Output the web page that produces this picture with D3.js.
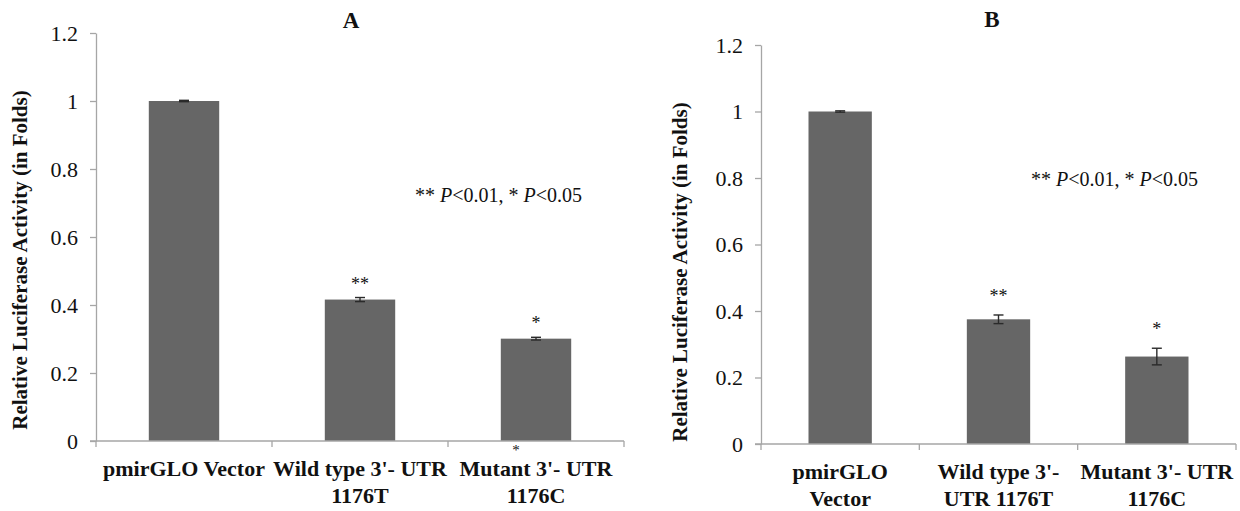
<!DOCTYPE html>
<html>
<head>
<meta charset="utf-8">
<script src="https://cdn.jsdelivr.net/npm/d3@7/dist/d3.min.js"></script>
<style>
  html, body { margin: 0; padding: 0; background: #fff; }
  svg { display: block; }
  text { font-family: "Liberation Serif", "Times New Roman", serif; fill: #111; }
</style>
</head>
<body>
<svg id="chart" width="1240" height="511"></svg>
<script>
// ---------------- DATA ----------------
const categories = ["pmirGLO Vector", "Wild type 3'- UTR 1176T", "Mutant 3'- UTR 1176C"];
const labelLinesA = [["pmirGLO Vector"], ["Wild type 3'- UTR", "1176T"], ["Mutant 3'- UTR", "1176C"]];
const labelLinesB = [["pmirGLO", "Vector"], ["Wild type 3'-", "UTR 1176T"], ["Mutant 3'- UTR", "1176C"]];
const valuesA = [1.0, 0.416, 0.301];
const errorsA = [0.002, 0.006, 0.004];
const valuesB = [1.0, 0.375, 0.263];
const errorsB = [0.002, 0.013, 0.025];
const starsA = ["", "**", "*"];
const starsB = ["", "**", "*"];
const yTicks = [0, 0.2, 0.4, 0.6, 0.8, 1, 1.2];
const yTickLabels = ["0", "0.2", "0.4", "0.6", "0.8", "1", "1.2"];
const yTitle = "Relative Luciferase Activity (in Folds)";
const panelTitles = ["A", "B"];

// ---------------- LAYOUT ----------------
const svg = d3.select("#chart");
const BAR = "#666666", AXIS = "#a6a6a6";

const panels = [
  { title: panelTitles[0], values: valuesA, errors: errorsA, stars: starsA, lines: labelLinesA,
    x0: 96, x1: 624, yTop: 33, yBot: 441, titleX: 351, titleY: 28,
    noteX: 415, noteY: 202, yTitleX: 27, yTitleY: 260, lab1: 476, starGap: 8, strayStar: true },
  { title: panelTitles[1], values: valuesB, errors: errorsB, stars: starsB, lines: labelLinesB,
    x0: 761, x1: 1236, yTop: 45, yBot: 444, titleX: 992, titleY: 27,
    noteX: 1031, noteY: 186, yTitleX: 687, yTitleY: 272, lab1: 479, starGap: 13, strayStar: false }
];

panels.forEach(p => {
  const g = svg.append("g");
  const x = d3.scaleBand().domain(categories).range([p.x0, p.x1]).paddingInner(0.6).paddingOuter(0.3);
  const y = d3.scaleLinear().domain([0, 1.2]).range([p.yBot, p.yTop]);
  const data = categories.map((c, i) => ({ c, v: p.values[i], e: p.errors[i], s: p.stars[i], lines: p.lines[i] }));

  // bars
  g.selectAll("rect.bar").data(data).enter().append("rect")
    .attr("class", "bar")
    .attr("x", d => x(d.c)).attr("width", x.bandwidth())
    .attr("y", d => y(d.v)).attr("height", d => y(0) - y(d.v))
    .attr("fill", BAR);

  // y axis
  const yAxis = d3.axisLeft(y).tickValues(yTicks)
    .tickFormat((d, i) => yTickLabels[i]).tickSize(6).tickSizeOuter(0).tickPadding(12);
  const ya = g.append("g").attr("transform", `translate(${p.x0},0)`).call(yAxis);
  ya.attr("font-family", null).attr("font-size", null);
  ya.select(".domain").attr("stroke", AXIS).attr("stroke-width", 1.3);
  ya.selectAll(".tick line").attr("stroke", AXIS).attr("stroke-width", 1.3);
  ya.selectAll(".tick text").style("font-family", "'Liberation Serif', serif").style("font-size", "22px").attr("fill", "#1a1a1a");

  // x axis line with boundary ticks
  const step = x.step();
  const bounds = d3.range(categories.length + 1).map(i => p.x0 + i * step);
  g.append("line").attr("x1", p.x0 - 6).attr("x2", p.x1).attr("y1", y(0)).attr("y2", y(0))
    .attr("stroke", AXIS).attr("stroke-width", 1.3);
  g.selectAll("line.xt").data(bounds).enter().append("line").attr("class", "xt")
    .attr("x1", d => d).attr("x2", d => d).attr("y1", y(0)).attr("y2", y(0) + 6)
    .attr("stroke", AXIS).attr("stroke-width", 1.3);

  // error bars
  const cx = d => x(d.c) + x.bandwidth() / 2;
  const eb = g.selectAll("g.err").data(data).enter().append("g").attr("class", "err")
    .attr("stroke", "#2a2a2a").attr("stroke-width", 1.4);
  eb.append("line").attr("x1", cx).attr("x2", cx).attr("y1", d => y(d.v + d.e)).attr("y2", d => y(d.v - d.e));
  eb.append("line").attr("x1", d => cx(d) - 5).attr("x2", d => cx(d) + 5).attr("y1", d => y(d.v + d.e)).attr("y2", d => y(d.v + d.e));
  eb.append("line").attr("x1", d => cx(d) - 5).attr("x2", d => cx(d) + 5).attr("y1", d => y(d.v - d.e)).attr("y2", d => y(d.v - d.e));

  // significance stars
  g.selectAll("text.star").data(data.filter(d => d.s)).enter().append("text")
    .attr("class", "star").attr("text-anchor", "middle")
    .attr("x", cx).attr("y", d => y(d.v + d.e) - p.starGap)
    .style("font-size", "18px").text(d => d.s);

  if (p.strayStar) {
    const d3rd = data[2];
    g.append("text").attr("text-anchor", "middle")
      .attr("x", cx(d3rd) - 20).attr("y", y(0) + 14)
      .style("font-size", "15px").text("*");
  }

  // category labels
  const lab = g.selectAll("text.cat").data(data).enter().append("text")
    .attr("class", "cat").attr("text-anchor", "middle")
    .style("font-size", "22px").style("font-weight", "bold");
  lab.selectAll("tspan").data(d => d.lines.map(l => ({ l, x: cx(d) }))).enter().append("tspan")
    .attr("x", d => d.x).attr("y", (d, i) => p.lab1 + i * 27).text(d => d.l);

  // panel title
  g.append("text").attr("x", p.titleX).attr("y", p.titleY).attr("text-anchor", "middle")
    .style("font-size", "23px").style("font-weight", "bold").text(p.title);

  // y title
  g.append("text").attr("transform", `translate(${p.yTitleX},${p.yTitleY}) rotate(-90)`)
    .attr("text-anchor", "middle").style("font-size", "21px").style("font-weight", "bold").text(yTitle);

  // p-value note
  const note = g.append("text").attr("x", p.noteX).attr("y", p.noteY).style("font-size", "20px");
  note.append("tspan").text("** ");
  note.append("tspan").style("font-style", "italic").text("P");
  note.append("tspan").text("<0.01, * ");
  note.append("tspan").style("font-style", "italic").text("P");
  note.append("tspan").text("<0.05");
});
</script>
</body>
</html>
